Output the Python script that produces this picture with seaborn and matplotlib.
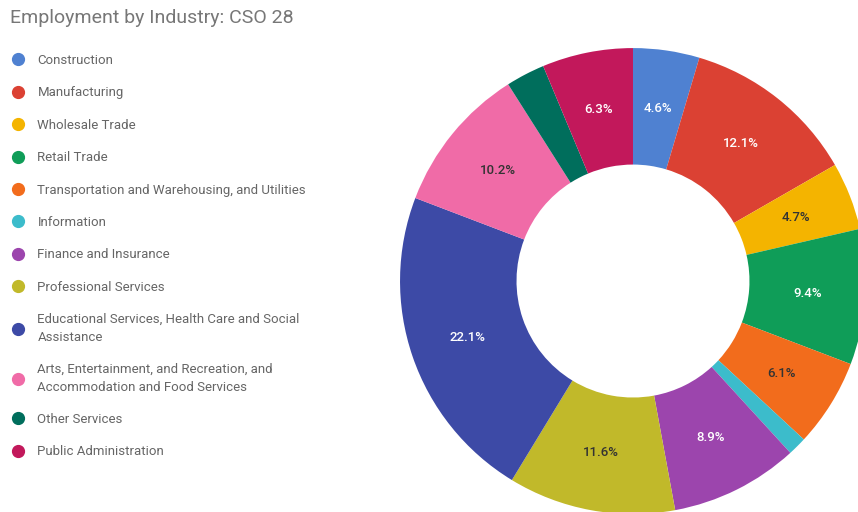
"""
Employment by Industry (CSO 28) donut chart.
"""

import matplotlib
matplotlib.use("Agg")
import numpy as np
import matplotlib.pyplot as plt
from matplotlib.lines import Line2D
import seaborn as sns

industries = [
    "Construction",
    "Manufacturing",
    "Wholesale Trade",
    "Retail Trade",
    "Transportation and Warehousing, and Utilities",
    "Information",
    "Finance and Insurance",
    "Professional Services",
    "Educational Services, Health Care and Social\nAssistance",
    "Arts, Entertainment, and Recreation, and\nAccommodation and Food Services",
    "Other Services",
    "Public Administration",
]
shares = [4.6, 12.1, 4.7, 9.4, 6.1, 1.3, 8.9, 11.6, 22.1, 10.2, 2.7, 6.3]
colors = [
    "#4f81d1", "#db4133", "#f4b400", "#0f9d58", "#f26c1c", "#3cbccb",
    "#9c45ad", "#c1b92a", "#3d4aa6", "#f06ba7", "#006e5c", "#c2185b",
]
label_colors = [
    "white", "white", "#333333", "white", "#333333", "white",
    "white", "#333333", "white", "#333333", "white", "white",
]

sns.set_theme(style="white")
plt.rcParams["font.family"] = ["Roboto", "DejaVu Sans"]

fig = plt.figure(figsize=(8.58, 5.12), dpi=100)

# donut
ax = fig.add_axes([0.4662, -0.0039, 0.5431, 0.910])
wedges, _ = ax.pie(
    shares,
    colors=colors,
    startangle=90,
    counterclock=False,
    radius=1.0,
    wedgeprops=dict(width=0.5, linewidth=0),
)
ax.set_aspect("equal")
ax.set_xlim(-1, 1)
ax.set_ylim(-1, 1)
ax.axis("off")

# percentages, small slices left unlabelled
for w, v, c in zip(wedges, shares, label_colors):
    if v < 3:
        continue
    ang = np.deg2rad((w.theta1 + w.theta2) / 2)
    ax.text(0.75 * np.cos(ang), 0.75 * np.sin(ang), f"{v:.1f}%",
            ha="center", va="center", fontsize=9.5, color=c,
            fontweight="medium")

# title + legend
fig.text(10 / 858, 1 - 18 / 512, "Employment by Industry: CSO 28",
         fontsize=14, color="#777777", va="center", ha="left")

handles = [
    Line2D([], [], marker="o", linestyle="none", markersize=8.5,
           markerfacecolor=c, markeredgecolor=c)
    for c in colors
]
leg = fig.legend(
    handles, industries,
    loc="upper left",
    bbox_to_anchor=(11 / 858, 1 - 54 / 512),
    frameon=False,
    fontsize=9.5,
    labelspacing=1.47,
    handletextpad=1.0,
    handlelength=1.0,
    borderpad=0,
    borderaxespad=0,
)
for t in leg.get_texts():
    t.set_color("#666666")
    t.set_linespacing(1.45)

fig.savefig("out.png", dpi=100)
